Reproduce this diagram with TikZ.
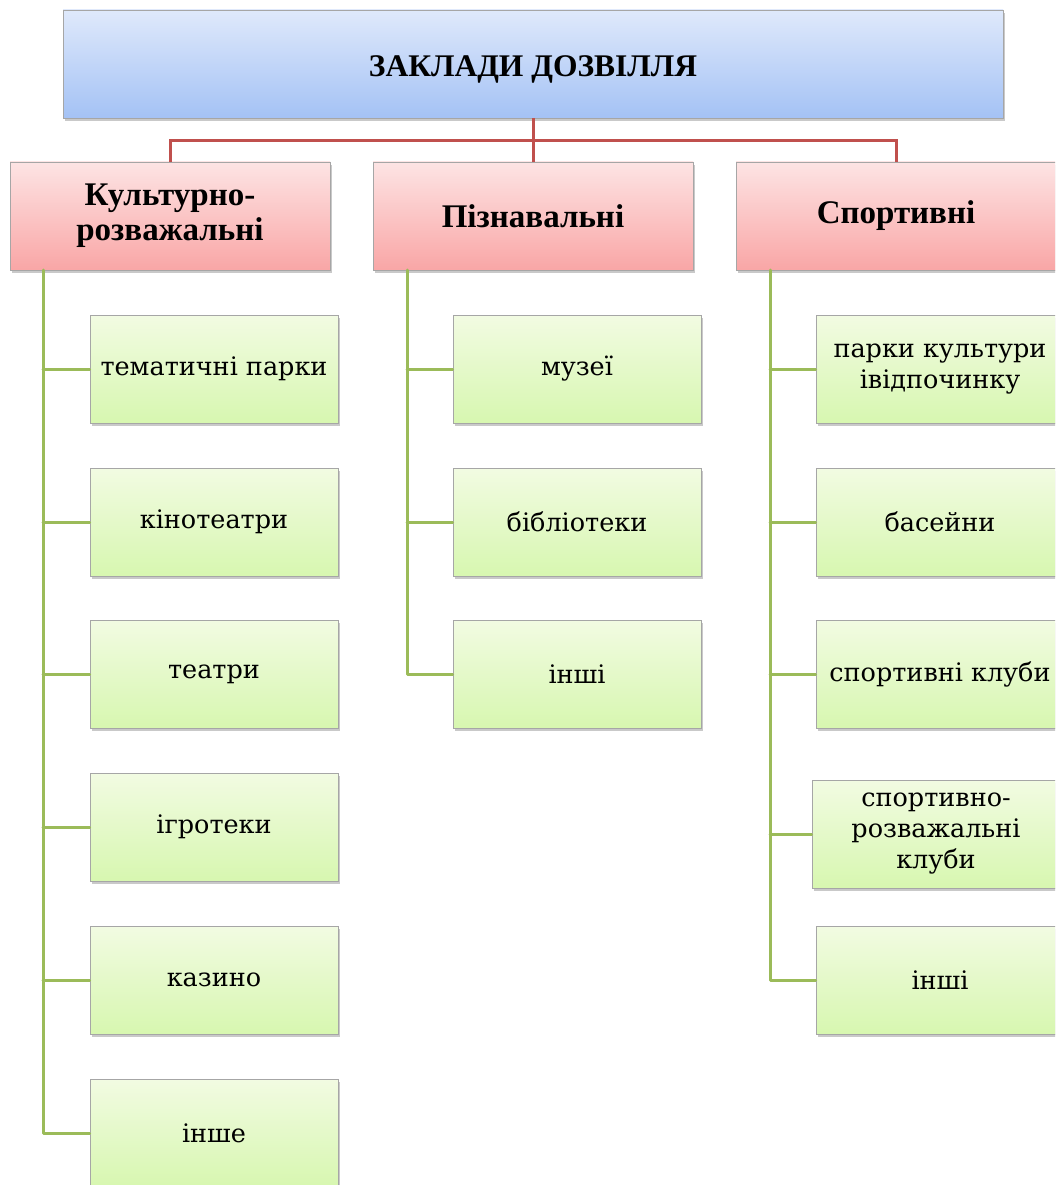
\documentclass[tikz,border=0pt]{standalone}
\usepackage{fontspec}
\setmainfont{DejaVu Serif}
\newfontfamily\hdfont{Liberation Serif}
\usetikzlibrary{shadows}
\definecolor{redline}{HTML}{C0504D}
\definecolor{greenline}{HTML}{9BBB59}
\tikzset{
  base/.style={draw=black!35, line width=0.8pt, align=center, inner sep=2pt,
    drop shadow={shadow xshift=2pt, shadow yshift=-3pt, opacity=0.35, fill=black!60}},
  topbox/.style={base, top color={rgb,255:red,223;green,233;blue,251}, bottom color={rgb,255:red,164;green,194;blue,245},
    minimum width=940pt, minimum height=108pt, text height=31pt, text depth=6pt,
    font=\hdfont\bfseries\fontsize{31.5}{36}\selectfont},
  catbox/.style={base, top color={rgb,255:red,253;green,228;blue,228}, bottom color={rgb,255:red,249;green,166;blue,166},
    minimum width=320pt, minimum height=108pt, font=\hdfont\bfseries\fontsize{33}{35}\selectfont},
  leafbox/.style={base, top color={rgb,255:red,242;green,251;blue,226}, bottom color={rgb,255:red,215;green,247;blue,176},
    minimum width=248pt, minimum height=108pt, font=\fontsize{25.5}{31}\selectfont},
  rl/.style={draw=redline, line width=3pt},
  gl/.style={draw=greenline, line width=3pt, line join=round, line cap=round}
}
\begin{document}
\begin{tikzpicture}[x=1pt,y=-1pt]
\useasboundingbox (0,0) rectangle (1055,1185);
\clip (0,0) rectangle (1055,1185);
\fill[white] (0,0) rectangle (1055,1185);
% top
\node[topbox] (top) at (533,64) {ЗАКЛАДИ ДОЗВІЛЛЯ};
% categories
\node[catbox] (c1) at (170,216) {Культурно-\\розважальні};
\node[catbox] (c2) at (533,216) {Пізнавальні};
\node[catbox] (c3) at (896,216) {Спортивні};
\coordinate (bus) at (533,141);
\draw[rl] (c1.north) |- (bus) -| (c3.north);
\draw[rl] (top.south) -- (c2.north);
% column 1
\node[leafbox] (a1) at (214,369) {тематичні парки};
\node[leafbox] (a2) at (214,522) {кінотеатри};
\node[leafbox] (a3) at (214,674) {театри};
\node[leafbox] (a4) at (214,827) {ігротеки};
\node[leafbox] (a5) at (214,980) {казино};
\node[leafbox] (a6) at (214,1133) {інше};
% column 2
\node[leafbox] (b1) at (577,369) {музеї};
\node[leafbox] (b2) at (577,522) {бібліотеки};
\node[leafbox] (b3) at (577,674) {інші};
% column 3
\node[leafbox] (d1) at (940,369) {парки культури\\ івідпочинку};
\node[leafbox] (d2) at (940,522) {басейни};
\node[leafbox] (d3) at (940,674) {спортивні клуби};
\node[leafbox] (d4) at (936,834) {спортивно-\\розважальні\\клуби};
\node[leafbox] (d5) at (940,980) {інші};
% green connectors
\coordinate (t1) at (43,270);
\coordinate (t2) at (407,270);
\coordinate (t3) at (770,270);
\draw[gl] (t1) |- (a6.west);
\foreach \n in {a1,a2,a3,a4,a5} \draw[gl] (t1 |- \n.west) -- (\n.west);
\draw[gl] (t2) |- (b3.west);
\foreach \n in {b1,b2} \draw[gl] (t2 |- \n.west) -- (\n.west);
\draw[gl] (t3) |- (d5.west);
\foreach \n in {d1,d2,d3,d4} \draw[gl] (t3 |- \n.west) -- (\n.west);
\end{tikzpicture}
\end{document}
